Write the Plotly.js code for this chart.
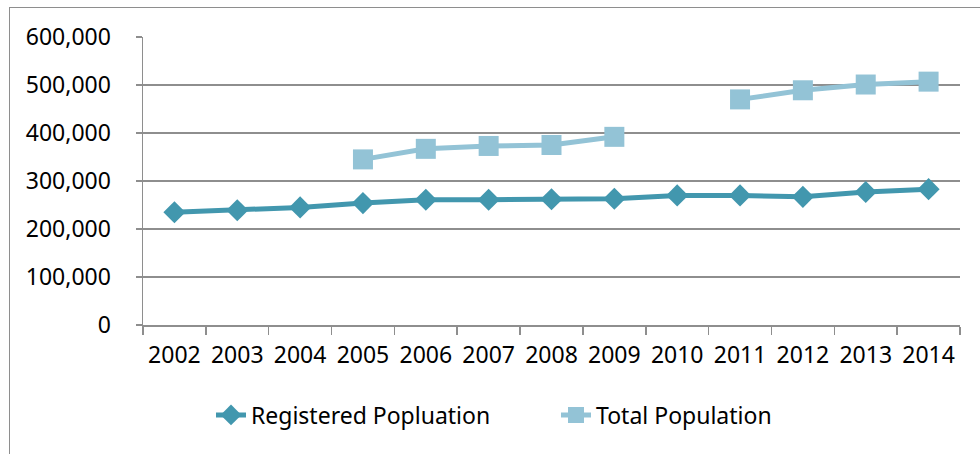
<!DOCTYPE html>
<html>
<head>
<meta charset="utf-8">
<script src="https://cdn.plot.ly/plotly-3.0.1.min.js"></script>
<style>
  html, body { margin: 0; padding: 0; background: #ffffff; overflow: hidden; }
  #frame { position: absolute; left: 9px; top: 7px; width: 1000px; height: 500px; border: 1.5px solid #8e8e8e; box-sizing: border-box; }
  #chart { position: absolute; left: 0; top: 0; width: 980px; height: 454px; }
</style>
</head>
<body>
<div id="frame"></div>
<div id="chart"></div>
<script>
const years = ['2002','2003','2004','2005','2006','2007','2008','2009','2010','2011','2012','2013','2014'];
const registeredPopulation = [235000, 239000, 245000, 254000, 261000, 261000, 262000, 263000, 270000, 270000, 267000, 277000, 283000];
const totalPopulation = [null, null, null, 345000, 367000, 373000, 375000, 392000, null, 470000, 489000, 501000, 507000];
const seriesNames = ['Registered Popluation', 'Total Population'];

const font = 'Noto Sans, Open Sans, sans-serif';
const gridColor = '#8e8e8e';

const traces = [
  {
    x: years, y: registeredPopulation, name: seriesNames[0],
    type: 'scatter', mode: 'lines+markers', connectgaps: false,
    line: { color: '#4297ae', width: 5 },
    marker: { symbol: 'diamond', size: 17, color: '#4297ae' },
    hoverinfo: 'skip'
  },
  {
    x: years, y: totalPopulation, name: seriesNames[1],
    type: 'scatter', mode: 'lines+markers', connectgaps: false,
    line: { color: '#93c3d6', width: 5 },
    marker: { symbol: 'square', size: 20, color: '#93c3d6' },
    hoverinfo: 'skip'
  }
];

const layout = {
  width: 980, height: 454,
  margin: { l: 143, r: 20, t: 37, b: 129, autoexpand: false },
  paper_bgcolor: 'rgba(0,0,0,0)',
  plot_bgcolor: 'rgba(0,0,0,0)',
  font: { family: font, size: 23, color: '#000000' },
  showlegend: true,
  legend: {
    orientation: 'h',
    xref: 'container', yref: 'container',
    x: 211 / 980, xanchor: 'left', y: 1 - 415 / 454, yanchor: 'middle',
    font: { family: font, size: 23, color: '#000000' },
    itemwidth: 30, entrywidth: 300, entrywidthmode: 'pixels', tracegroupgap: 0
  },
  xaxis: {
    type: 'category', range: [-0.5, 12.5],
    showgrid: false, zeroline: false,
    showline: true, linecolor: gridColor, linewidth: 1.5,
    ticks: 'outside', tickson: 'boundaries', ticklen: 8, tickcolor: gridColor, tickwidth: 1.5,
    ticklabelstandoff: 9,
    tickfont: { family: font, size: 23, color: '#000000' },
    fixedrange: true
  },
  yaxis: {
    range: [0, 600000], dtick: 100000, tick0: 0, tickformat: ',d',
    showgrid: true, gridcolor: gridColor, gridwidth: 1.5,
    zeroline: false,
    showline: true, linecolor: gridColor, linewidth: 1.5,
    ticks: 'outside', ticklen: 6, tickcolor: gridColor, tickwidth: 1.5,
    ticklabelstandoff: 20,
    tickfont: { family: font, size: 23, color: '#000000' },
    fixedrange: true
  }
};

Plotly.newPlot('chart', traces, layout, { staticPlot: true, displayModeBar: false });
</script>
</body>
</html>
